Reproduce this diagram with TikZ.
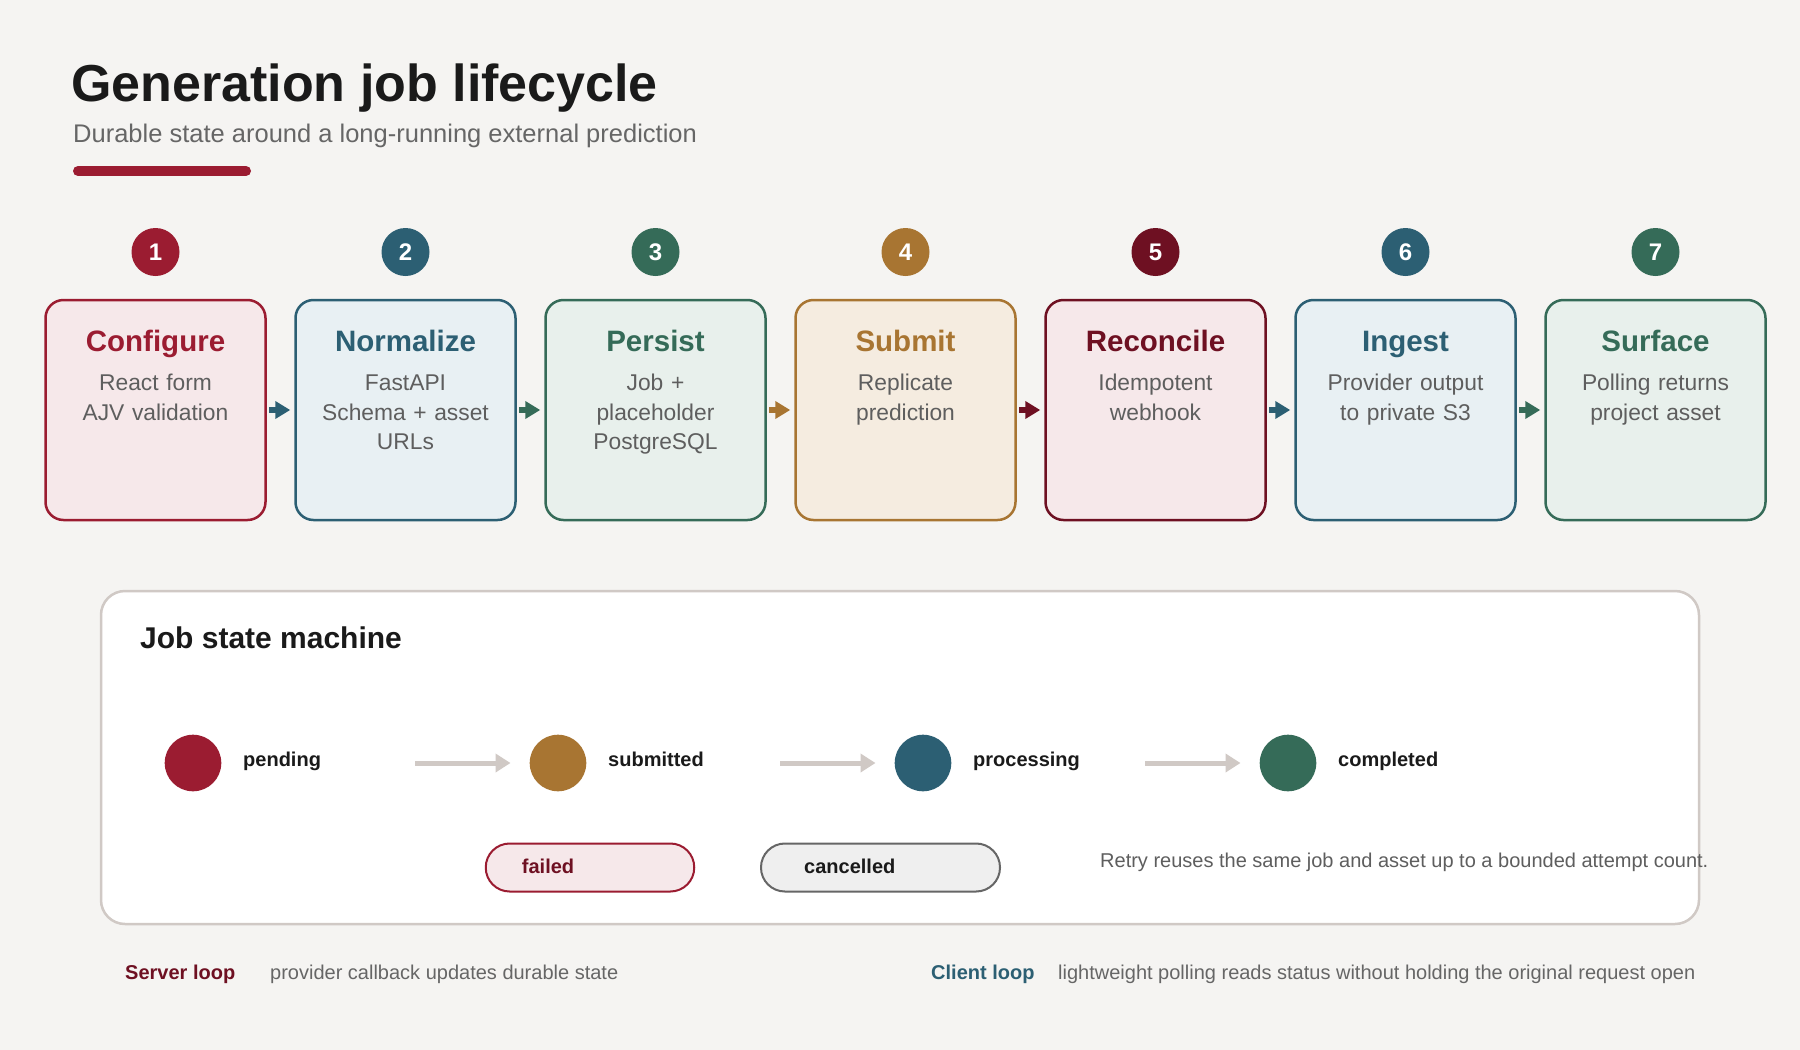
\documentclass[tikz,border=0pt]{standalone}
\usepackage{fontspec}
\setmainfont{Liberation Sans}
\usetikzlibrary{arrows.meta}
\definecolor{pagebg}{HTML}{F5F4F2}
\definecolor{inkdark}{HTML}{1A1A1A}
\definecolor{inkgray}{HTML}{666666}
\definecolor{descgray}{HTML}{5E5E5E}
\definecolor{cRed}{HTML}{9B1C31}
\definecolor{cBlue}{HTML}{2C5F73}
\definecolor{cGreen}{HTML}{356B58}
\definecolor{cOchre}{HTML}{A87532}
\definecolor{cWine}{HTML}{6E1022}
\definecolor{fRed}{HTML}{F6E8EA}
\definecolor{fBlue}{HTML}{E8F0F3}
\definecolor{fGreen}{HTML}{E8F0EC}
\definecolor{fOchre}{HTML}{F5ECE0}
\definecolor{panelline}{HTML}{D0C9C5}
\definecolor{pillgray}{HTML}{EFEFEF}

\begin{document}
\begin{tikzpicture}[x=1pt,y=-1pt,
  stepbox/.style 2 args={draw=#1,fill=#2,line width=2.5pt,rounded corners=18pt,
    minimum width=220pt,minimum height=220pt,inner sep=0pt},
  steptitle/.style={anchor=base,inner sep=0pt,text=#1,
    font=\fontsize{29.5}{34}\selectfont\bfseries},
  stepdesc/.style={anchor=base,text width=216pt,align=center,inner sep=0pt,
    text=descgray,font=\fontsize{22.8}{29.3}\selectfont},
  numdot/.style={circle,fill=#1,minimum size=48pt,inner sep=0pt,text=white,
    font=\fontsize{24}{24}\selectfont\bfseries},
  steparrow/.style={draw=#1,line width=6pt,-{Triangle[length=15pt,width=17pt]}},
  panel/.style={draw=panelline,fill=white,line width=2.5pt,rounded corners=24pt,
    minimum width=1598pt,minimum height=333pt},
  statedot/.style={circle,fill=#1,minimum size=56.6pt,inner sep=0pt},
  statelabel/.style={anchor=base west,inner sep=0pt,text=inkdark,
    font=\fontsize{20}{24}\selectfont\bfseries},
  statearrow/.style={draw=panelline,line width=5pt,-{Triangle[length=15pt,width=18pt]}},
  pill/.style 2 args={draw=#1,fill=#2,line width=2pt,rounded corners=23.9pt,
    minimum height=48pt},
  plain/.style={anchor=base west,inner sep=0pt,text=#1,
    font=\fontsize{20}{24}\selectfont}
]
% page and its size
\fill[pagebg] (0,0) rectangle (1800,1050);
\useasboundingbox (0,0) rectangle (1800,1050);

% heading
\node[anchor=base west,inner sep=0pt,text=inkdark,
  font=\fontsize{52}{60}\selectfont\bfseries] (title) at (71,101) {Generation job lifecycle};
\node[anchor=base west,inner sep=0pt,text=inkgray,
  font=\fontsize{25.5}{30}\selectfont] (subtitle) at (73,142)
  {Durable state around a long-running external prediction};
\draw[cRed,line width=10pt,line cap=round] (78,171) -- (246,171);

% the seven steps, each with its number above
\foreach \x/\name/\col/\fil/\desc [count=\k] in {
  155.5/Configure/cRed/fRed/{React form\\AJV validation},
  405.5/Normalize/cBlue/fBlue/{FastAPI\\Schema + asset\\URLs},
  655.5/Persist/cGreen/fGreen/{Job +\\placeholder\\PostgreSQL},
  905.5/Submit/cOchre/fOchre/{Replicate\\prediction},
  1155.5/Reconcile/cWine/fRed/{Idempotent\\webhook},
  1405.5/Ingest/cBlue/fBlue/{Provider output\\to private S3},
  1655.5/Surface/cGreen/fGreen/{Polling returns\\project asset}}{
  \node[stepbox={\col}{\fil}] (s\k) at (\x,410) {};
  \node[numdot=\col] (n\k) at (\x,252) {\k};
  \node[steptitle=\col] (t\k) at ([yshift=-53pt]s\k.north) {\name};
  \node[stepdesc] (d\k) at ([yshift=-92pt]s\k.north) {\desc};
}
% short arrows, coloured like the step they point to
\foreach \k/\col in {2/cBlue,3/cGreen,4/cOchre,5/cWine,6/cBlue,7/cGreen}{
  \pgfmathtruncatemacro\j{\k-1}
  \draw[steparrow=\col] ([xshift=2.25pt]s\j.east) -- ([xshift=-4pt]s\k.west);
}

% state machine panel
\node[panel] (sm) at (900,757.5) {};
\node[anchor=base west,inner sep=0pt,text=inkdark,
  font=\fontsize{30}{34}\selectfont\bfseries] (smtitle) at (140,648) {Job state machine};
\foreach \x/\nm/\col [count=\k] in {193/pending/cRed,558/submitted/cOchre,
  923/processing/cBlue,1288/completed/cGreen}{
  \node[statedot=\col] (st\k) at (\x,763) {};
  \node[statelabel] (sl\k) at ([xshift=50pt,yshift=-3pt]st\k.center) {\nm};
}
\foreach \k in {2,3,4}{
  \pgfmathtruncatemacro\j{\k-1}
  \draw[statearrow] ([xshift=222pt]st\j.center) -- ([xshift=-19pt]st\k.west);
}
% end states off the main path
\node[pill={cRed}{fRed},minimum width=208.5pt] (failed) at (590,867.5) {};
\node[statelabel,text=cWine] (failedtxt) at ([xshift=37pt,yshift=-5.5pt]failed.west) {failed};
\node[pill={inkgray}{pillgray},minimum width=239pt] (cancel) at (880.5,867.5) {};
\node[statelabel] (canceltxt) at ([xshift=44pt,yshift=-5.5pt]cancel.west) {cancelled};
\node[plain=descgray] (retry) at (1100,867)
  {Retry reuses the same job and asset up to a bounded attempt count.};

% footer notes
\node[plain=cWine,font=\fontsize{20}{24}\selectfont\bfseries] (srv) at (125,979) {Server loop};
\node[plain=inkgray] (srvtxt) at (270,979) {provider callback updates durable state};
\node[plain=cBlue,font=\fontsize{20}{24}\selectfont\bfseries] (cli) at (931,979) {Client loop};
\node[plain=inkgray] (clitxt) at (1058,979)
  {lightweight polling reads status without holding the original request open};
\end{tikzpicture}
\end{document}
